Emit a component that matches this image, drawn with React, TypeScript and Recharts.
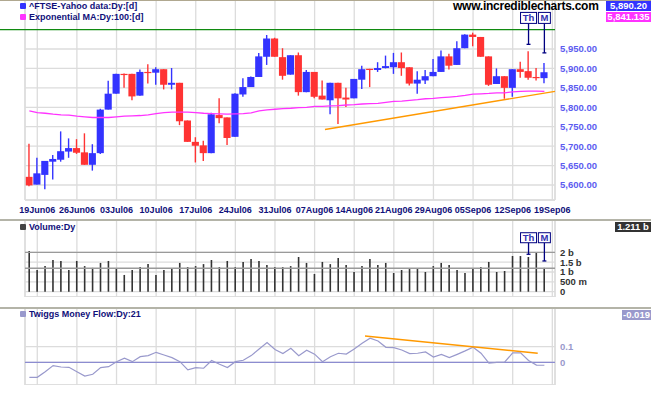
import React from "react";
import {
  ComposedChart,
  Bar,
  Line,
  XAxis,
  YAxis,
  CartesianGrid,
  ReferenceLine,
  ReferenceDot,
} from "recharts";

// ─── Data (FTSE daily, 16 Jun – 18 Sep 2006) ─────────────────────────────────

const opens = [
  5621, 5601, 5626, 5660, 5665, 5686, 5695, 5684, 5652, 5682, 5794, 5835, 5886, 5886, 5830, 5891, 5889,
  5898, 5858, 5863, 5766, 5711, 5702, 5682, 5780, 5774, 5724, 5833, 5852, 5878, 5930, 5977, 5929,
  5884, 5934, 5839, 5891, 5830, 5818, 5863, 5825, 5823, 5871, 5899, 5896, 5901, 5903, 5916, 5903,
  5861, 5869, 5880, 5891, 5931, 5909, 5952, 5987, 5981, 5931, 5860, 5880, 5850, 5898, 5893, 5878, 5875,
];
const highs = [
  5706, 5670, 5662, 5677, 5738, 5720, 5718, 5733, 5705, 5796, 5868, 5886, 5887, 5886, 5897, 5911, 5903,
  5898, 5901, 5863, 5766, 5723, 5714, 5786, 5823, 5774, 5836, 5875, 5879, 5940, 5986, 5979, 5952,
  5934, 5941, 5896, 5891, 5869, 5863, 5863, 5850, 5873, 5907, 5899, 5916, 5933, 5940, 5941, 5903,
  5893, 5896, 5924, 5946, 5938, 5970, 5988, 5992, 5981, 5931, 5900, 5880, 5898, 5917, 5944, 5901, 5914,
];
const lows = [
  5597, 5601, 5589, 5614, 5660, 5670, 5680, 5652, 5637, 5680, 5794, 5835, 5850, 5818, 5830, 5861, 5858,
  5846, 5846, 5754, 5711, 5658, 5662, 5682, 5759, 5703, 5724, 5827, 5852, 5878, 5909, 5930, 5871,
  5884, 5830, 5839, 5823, 5820, 5782, 5757, 5801, 5823, 5847, 5852, 5891, 5900, 5886, 5881, 5856,
  5835, 5860, 5880, 5891, 5897, 5909, 5952, 5957, 5930, 5855, 5860, 5822, 5827, 5876, 5871, 5869, 5862,
];
const closes = [
  5599, 5630, 5662, 5667, 5687, 5695, 5683, 5652, 5682, 5794, 5835, 5886, 5884, 5828, 5891, 5889, 5898,
  5858, 5863, 5764, 5711, 5701, 5682, 5782, 5772, 5721, 5835, 5852, 5878, 5931, 5977, 5930, 5881,
  5934, 5839, 5891, 5827, 5820, 5863, 5823, 5820, 5873, 5898, 5896, 5901, 5906, 5916, 5901, 5861,
  5871, 5880, 5891, 5931, 5907, 5952, 5987, 5981, 5930, 5858, 5880, 5850, 5898, 5891, 5876, 5875, 5890.2,
];
const ema100 = [
  5790.7, 5786.4, 5784.7, 5782.2, 5780.5, 5779.7, 5777.1, 5775.4, 5773.7, 5773.7, 5773.7, 5775.4, 5777.1,
  5778.0, 5778.8, 5780.5, 5783.5, 5786.4, 5787.3, 5787.3, 5787.3, 5786.4, 5784.7, 5783.9, 5783.0, 5782.2,
  5783.0, 5783.9, 5785.6, 5790.7, 5793.2, 5794.9, 5796.6, 5797.5, 5799.1, 5800.0, 5802.5, 5802.5, 5803.4,
  5804.2, 5805.9, 5806.8, 5808.5, 5809.3, 5810.2, 5812.7, 5815.3, 5816.1, 5817.8, 5819.5, 5822.0, 5822.9,
  5824.6, 5826.3, 5828.0, 5830.5, 5833.9, 5834.7, 5835.6, 5837.3, 5837.3, 5839.8, 5840.7, 5841.5, 5841.5,
  5841.1,
];
// volume in billions
const volume = [
  2.06, 1.1, 1.3, 1.61, 1.56, 1.1, 1.56, 1.3, 1.21, 1.46, 1.56, 1.16, 0.85, 1.1, 1.25, 1.4, 0.85, 1.1,
  1.16, 1.46, 1.25, 1.3, 1.4, 1.61, 1.25, 1.56, 1.25, 1.51, 1.66, 1.56, 1.35, 1.25, 1.25, 1.3, 1.76, 1.46,
  0.9, 1.51, 1.4, 1.71, 1.35, 1.0, 1.3, 1.66, 1.35, 1.46, 0.95, 1.1, 1.15, 1.15, 1.0, 1.3, 1.46, 1.35,
  1.1, 0.95, 1.15, 1.25, 1.51, 1.0, 1.05, 1.81, 1.81, 1.76, 2.01, 1.21,
];
const twiggs = [
  -0.096, -0.096, -0.06, -0.021, -0.03, -0.032, -0.06, -0.088, -0.077, -0.034, -0.028, 0.004, 0.026,
  0.004, 0.036, 0.043, 0.064, 0.047, 0.03, 0.004, -0.049, -0.034, -0.038, 0.011, -0.013, -0.034, 0.004,
  0.013, 0.043, 0.085, 0.126, 0.082, 0.056, 0.09, 0.042, 0.077, 0.052, 0.004, 0.036, 0.058, 0.053, 0.085,
  0.122, 0.154, 0.137, 0.096, 0.094, 0.079, 0.056, 0.058, 0.066, 0.034, 0.051, 0.03, 0.051, 0.073, 0.097,
  0.058, -0.006, 0.0, 0.002, 0.06, 0.06, 0.012, -0.018, -0.019,
];

const weekTicks = [1, 6, 11, 16, 21, 26, 31, 36, 41, 46, 51, 56, 61, 66];
const weekLabels = [
  "19Jun06", "26Jun06", "03Jul06", "10Jul06", "17Jul06", "24Jul06", "31Jul06",
  "07Aug06", "14Aug06", "21Aug06", "29Aug06", "05Sep06", "12Sep06", "19Sep06",
];
const priceTicks = [5600, 5650, 5700, 5750, 5800, 5850, 5900, 5950];
const volTicks = [0, 0.5, 1, 1.5, 2];
const volTickLabels = ["0", "500 m", "1 b", "1.5 b", "2 b"];
const volLevels = [2, 1.19];
const tmfTicks = [0, 0.1];

const priceLevel = 6000;
const priceTrend = [{ i: 37.31, v: 5743 }, { i: 66.34, v: 5841 }];
const tmfTrend = [{ i: 42.36, v: 0.169 }, { i: 64.16, v: 0.058 }];
const markers = [
  { i: 63, label: "Th", priceTip: 5962, volTip: 1.9 },
  { i: 65, label: "M", priceTip: 5940, volTip: 1.56 },
];

// ─── Layout constants ─────────────────────────────────────────────────────────

const X_DOMAIN: [number, number] = [-0.55, 66.34];
const PRICE_DOMAIN: [number, number] = [5561.4, 6076.1];
const VOL_DOMAIN: [number, number] = [-0.27, 3.64];
const TMF_DOMAIN: [number, number] = [-0.1455, 0.348];
const PRICE_BOX = { center: 6030, bottom: 6016 };
const VOL_BOX = { center: 2.74, bottom: 2.49 };

const FONT = "'Liberation Sans', Arial, sans-serif";
const BLUE = "#3333ff";
const RED = "#ff3333";
const MAGENTA = "#ff33ff";
const ORANGE = "#ff9900";
const NAVY = "#10107a";
const GRID = "#dcdcdc";
const LAVENDER = "#9999cc";

const candleData = opens.map((o, i) => ({
  i,
  o,
  h: highs[i],
  l: lows[i],
  c: closes[i],
  ema: ema100[i],
}));
const volData = volume.map((v, i) => ({ i, v }));
const tmfData = twiggs.map((t, i) => ({ i, t }));

// ─── Shapes ───────────────────────────────────────────────────────────────────

const Candle = (props: any) => {
  const { x, y, width, height, payload } = props;
  const { o, h, l, c } = payload;
  const color = c >= o ? BLUE : RED;
  const ratio = h === l ? 0 : height / (h - l);
  const top = y + (h - Math.max(o, c)) * ratio;
  const bot = y + (h - Math.min(o, c)) * ratio;
  const cx = x + width / 2;
  return (
    <g>
      <line x1={cx} x2={cx} y1={y} y2={y + height} stroke={color} strokeWidth={1.4} />
      <rect x={x} y={top} width={width} height={Math.max(bot - top, 1.2)} fill={color} />
    </g>
  );
};

const markerBox = (label: string, h: number) => (p: any) => {
  const w = label === "Th" ? 16 : 12;
  return (
    <g>
      <rect x={p.cx - w / 2} y={p.cy - h / 2} width={w} height={h} fill="#fff" stroke="#000080" strokeWidth={1} />
      <text
        x={p.cx}
        y={p.cy + 3.3}
        textAnchor="middle"
        fontSize={9.5}
        fontWeight="bold"
        fontFamily={FONT}
        fill="#3030b0"
      >
        {label}
      </text>
    </g>
  );
};

const axisTick = (fill: string, size = 9.5) => ({ fontSize: size, fill, fontWeight: 700, fontFamily: FONT });

function Markers(tipKey: "priceTip" | "volTip", box: { center: number; bottom: number }, boxH: number) {
  return markers.flatMap((m) => [
    <ReferenceLine
      key={m.label + "a"}
      segment={[{ x: m.i, y: box.bottom }, { x: m.i, y: m[tipKey] }]}
      stroke="#000080"
      strokeWidth={1.3}
      ifOverflow="visible"
    />,
    <ReferenceLine
      key={m.label + "t"}
      segment={[{ x: m.i - 0.25, y: m[tipKey] }, { x: m.i + 0.25, y: m[tipKey] }]}
      stroke="#000080"
      strokeWidth={1.3}
      ifOverflow="visible"
    />,
    <ReferenceDot key={m.label + "b"} x={m.i} y={box.center} ifOverflow="visible" shape={markerBox(m.label, boxH)} />,
  ]);
}

function Borders() {
  return [
    <ReferenceLine key="bl" x={X_DOMAIN[0]} stroke={GRID} strokeWidth={1.3} />,
    <ReferenceLine key="br" x={X_DOMAIN[1]} stroke={GRID} strokeWidth={1.3} />,
  ];
}

// ─── Panels ───────────────────────────────────────────────────────────────────

function PricePanel() {
  return (
    <ComposedChart width={651} height={220} data={candleData} margin={{ top: 0, right: 0, bottom: 0, left: 25 }}>
      <CartesianGrid stroke={GRID} strokeWidth={1.3} />
      <XAxis
        type="number"
        dataKey="i"
        domain={X_DOMAIN}
        allowDataOverflow
        ticks={weekTicks}
        interval={0}
        tickFormatter={(v: number) => weekLabels[weekTicks.indexOf(v)] ?? ""}
        height={20}
        axisLine={false}
        tickLine={false}
        tickSize={0}
        tickMargin={7}
        tick={axisTick(NAVY, 9)}
      />
      <YAxis
        orientation="right"
        width={96}
        domain={PRICE_DOMAIN}
        allowDataOverflow
        ticks={priceTicks}
        interval={0}
        tickFormatter={(v: number) =>
          v.toLocaleString("en-US", { minimumFractionDigits: 2, maximumFractionDigits: 2 })
        }
        axisLine={false}
        tickLine={false}
        tickSize={0}
        tickMargin={5}
        tick={axisTick("#5c5cf0")}
      />
      {Borders()}
      <ReferenceLine y={PRICE_DOMAIN[0]} stroke={GRID} strokeWidth={1.3} />
      <Bar dataKey={(d: any) => [d.l, d.h]} barSize={8} shape={Candle} isAnimationActive={false} />
      <Line dataKey="ema" stroke={MAGENTA} strokeWidth={1.3} dot={false} isAnimationActive={false} />
      <ReferenceLine
        segment={[{ x: priceTrend[0].i, y: priceTrend[0].v }, { x: priceTrend[1].i, y: priceTrend[1].v }]}
        stroke={ORANGE}
        strokeWidth={1.4}
        ifOverflow="visible"
      />
      <ReferenceLine
        segment={[{ x: -3.71, y: priceLevel }, { x: X_DOMAIN[1], y: priceLevel }]}
        stroke="#108a10"
        strokeWidth={1.3}
        ifOverflow="visible"
      />
      {Markers("priceTip", PRICE_BOX, 11)}
    </ComposedChart>
  );
}

function VolumePanel() {
  return (
    <ComposedChart width={651} height={77} data={volData} margin={{ top: 0, right: 0, bottom: 0, left: 25 }}>
      <CartesianGrid stroke={GRID} strokeWidth={1.3} />
      <XAxis type="number" dataKey="i" domain={X_DOMAIN} allowDataOverflow ticks={weekTicks} interval={0} hide />
      <YAxis
        orientation="right"
        width={96}
        domain={VOL_DOMAIN}
        allowDataOverflow
        ticks={volTicks}
        interval={0}
        tickFormatter={(v: number) => volTickLabels[volTicks.indexOf(v)] ?? ""}
        axisLine={false}
        tickLine={false}
        tickSize={0}
        tickMargin={5}
        tick={axisTick("#333")}
      />
      {Borders()}
      <ReferenceLine y={VOL_DOMAIN[0]} stroke={GRID} strokeWidth={1.3} />
      {volLevels.map((v) => (
        <ReferenceLine key={v} y={v} stroke="#9a9a9a" strokeWidth={1.3} />
      ))}
      <Bar dataKey="v" barSize={1.6} fill="#333" isAnimationActive={false} />
      {Markers("volTip", VOL_BOX, 10)}
    </ComposedChart>
  );
}

function TwiggsPanel() {
  return (
    <ComposedChart width={651} height={77} data={tmfData} margin={{ top: 0, right: 0, bottom: 0, left: 25 }}>
      <CartesianGrid stroke={GRID} strokeWidth={1.3} />
      <XAxis type="number" dataKey="i" domain={X_DOMAIN} allowDataOverflow ticks={weekTicks} interval={0} hide />
      <YAxis
        orientation="right"
        width={96}
        domain={TMF_DOMAIN}
        allowDataOverflow
        ticks={tmfTicks}
        interval={0}
        tickFormatter={(v: number) => (v === 0 ? "0" : String(v))}
        axisLine={false}
        tickLine={false}
        tickSize={0}
        tickMargin={5}
        tick={axisTick(LAVENDER)}
      />
      {Borders()}
      <ReferenceLine y={TMF_DOMAIN[0]} stroke={GRID} strokeWidth={1.3} />
      <ReferenceLine y={0} stroke="#8c8cd0" strokeWidth={1.3} />
      <Line dataKey="t" stroke={LAVENDER} strokeWidth={1.2} dot={false} isAnimationActive={false} />
      <ReferenceLine
        segment={[{ x: tmfTrend[0].i, y: tmfTrend[0].v }, { x: tmfTrend[1].i, y: tmfTrend[1].v }]}
        stroke={ORANGE}
        strokeWidth={1.4}
        ifOverflow="visible"
      />
    </ComposedChart>
  );
}

// ─── Overlays ─────────────────────────────────────────────────────────────────

const legendText: React.CSSProperties = {
  position: "absolute",
  left: 29,
  fontSize: 9,
  fontWeight: 700,
  color: NAVY,
  lineHeight: "10px",
  whiteSpace: "nowrap",
};

function LegendItem({ top, color, text }: { top: number; color: string; text: string }) {
  return (
    <>
      <div style={{ position: "absolute", left: 19.5, top: top - 3, width: 6, height: 6, background: color, borderRadius: 1 }} />
      <div style={{ ...legendText, top: top - 5 }}>{text}</div>
    </>
  );
}

function ValueBox({ left, top, width, bg, text }: { left: number; top: number; width: number; bg: string; text: string }) {
  return (
    <div
      style={{
        position: "absolute",
        left,
        top,
        width,
        height: 10,
        background: bg,
        color: "#fff",
        fontSize: 9.5,
        fontWeight: 700,
        lineHeight: "10px",
        textAlign: "center",
        whiteSpace: "nowrap",
      }}
    >
      {text}
    </div>
  );
}

const separator = (top: number): React.CSSProperties => ({
  position: "absolute",
  left: 0,
  top,
  width: 651,
  height: 2,
  background: "#b4b4a8",
});

export default function App() {
  return (
    <div style={{ position: "relative", width: 651, height: 395, background: "#fff", overflow: "hidden", fontFamily: FONT }}>
      <style>{"body{margin:0}"}</style>
      <div style={{ position: "absolute", left: 0, top: 0 }}>
        <PricePanel />
      </div>
      <div style={{ position: "absolute", left: 0, top: 220 }}>
        <VolumePanel />
      </div>
      <div style={{ position: "absolute", left: 0, top: 308 }}>
        <TwiggsPanel />
      </div>

      <div style={{ position: "absolute", left: 0, top: 0, width: 651, height: 1, background: "#b0a890" }} />
      <div style={separator(219)} />
      <div style={separator(307)} />

      <LegendItem top={5.5} color={BLUE} text="^FTSE-Yahoo data:Dy:[d]" />
      <LegendItem top={16.5} color={MAGENTA} text="Exponential MA:Dy:100:[d]" />
      <LegendItem top={226.5} color="#444" text="Volume:Dy" />
      <LegendItem top={314} color={LAVENDER} text="Twiggs Money Flow:Dy:21" />

      <div
        style={{
          position: "absolute",
          left: 453,
          top: 1,
          fontSize: 12,
          fontWeight: 700,
          letterSpacing: -0.25,
          color: "#000",
          lineHeight: "11px",
          height: 11,
          whiteSpace: "nowrap",
        }}
      >
        www.incrediblecharts.com
      </div>

      <ValueBox left={606} top={1} width={45} bg={BLUE} text="5,890.20" />
      <ValueBox left={606} top={12} width={45} bg={MAGENTA} text="5,841.135" />
      <ValueBox left={615} top={221.5} width={36} bg="#333" text="1.211 b" />
      <ValueBox left={622} top={309.5} width={29} bg={LAVENDER} text="-0.019" />
    </div>
  );
}
